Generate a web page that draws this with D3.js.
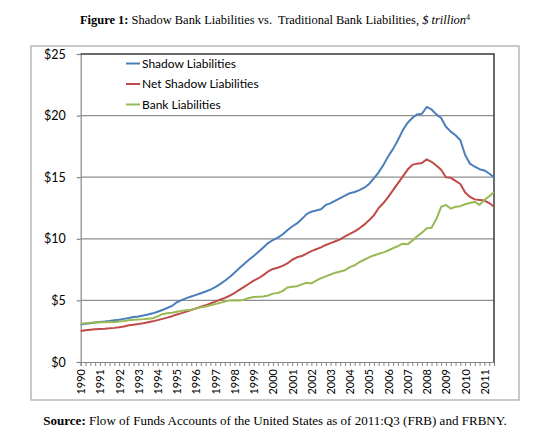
<!DOCTYPE html>
<html><head><meta charset="utf-8">
<script src="https://cdn.jsdelivr.net/npm/d3@7/dist/d3.min.js"></script>
<style>
body{margin:0;background:#fff;}
svg{display:block;}
</style></head>
<body><svg id="chart" width="560" height="442"></svg>
<script>
// ---- data (quarterly, 1990:Q1 .. 2011:Q3), $ trillion ----
const yearLabels = [1990,1991,1992,1993,1994,1995,1996,1997,1998,1999,2000,2001,2002,2003,2004,2005,2006,2007,2008,2009,2010,2011];
const yTicks = [0,5,10,15,20,25];
const shadow = [
 3.05,3.10,3.15,3.20,3.25,3.28,3.32,3.38,3.43,3.50,
 3.57,3.65,3.70,3.77,3.85,3.95,4.08,4.22,4.38,4.55,
 4.85,5.02,5.18,5.32,5.45,5.58,5.72,5.88,6.08,6.32,
 6.60,6.90,7.25,7.60,7.95,8.30,8.60,8.95,9.30,9.65,
 9.90,10.10,10.35,10.70,11.00,11.25,11.60,12.00,12.20,12.30,
 12.40,12.75,12.90,13.10,13.30,13.50,13.70,13.80,13.95,14.15,
 14.45,14.90,15.40,16.00,16.70,17.30,18.00,18.80,19.40,19.80,
 20.10,20.15,20.70,20.50,20.10,19.80,19.10,18.70,18.40,18.00,
 16.80,16.10,15.85,15.65,15.55,15.30,15.00];
const netShadow = [
 2.52,2.57,2.62,2.66,2.68,2.70,2.73,2.77,2.82,2.88,
 2.98,3.03,3.08,3.14,3.22,3.30,3.40,3.50,3.60,3.72,
 3.85,3.97,4.10,4.22,4.35,4.48,4.60,4.75,4.90,5.05,
 5.20,5.38,5.60,5.85,6.10,6.35,6.60,6.80,7.05,7.35,
 7.55,7.65,7.80,8.00,8.30,8.50,8.60,8.80,9.00,9.15,
 9.30,9.50,9.65,9.80,9.95,10.20,10.40,10.60,10.85,11.15,
 11.50,11.90,12.50,12.90,13.40,13.95,14.50,15.05,15.60,16.00,
 16.10,16.15,16.45,16.25,15.95,15.60,15.00,14.95,14.70,14.45,
 13.75,13.40,13.20,13.15,13.10,12.90,12.60];
const bank = [
 3.10,3.15,3.18,3.20,3.22,3.23,3.24,3.25,3.28,3.32,
 3.38,3.42,3.45,3.48,3.52,3.55,3.70,3.88,3.95,4.00,
 4.08,4.15,4.20,4.25,4.35,4.45,4.50,4.60,4.70,4.80,
 4.90,5.00,5.02,5.00,5.05,5.20,5.28,5.30,5.32,5.40,
 5.55,5.60,5.75,6.05,6.10,6.15,6.30,6.43,6.38,6.60,
 6.80,6.95,7.10,7.25,7.35,7.45,7.70,7.85,8.10,8.30,
 8.50,8.65,8.78,8.90,9.05,9.25,9.40,9.60,9.55,9.85,
 10.20,10.50,10.85,10.90,11.60,12.60,12.75,12.45,12.60,12.65,
 12.80,12.90,13.00,12.75,13.15,13.45,13.80];
const seriesNames = ["Shadow Liabilities","Net Shadow Liabilities","Bank Liabilities"];
const seriesColors = ["#4a7ebb","#be4b48","#98b954"];

// quarter categories built from year labels
const quarters = [];
yearLabels.forEach(y => [1,2,3,4].forEach(q => quarters.push(y + ":Q" + q)));
quarters.length = shadow.length;

const svg = d3.select("#chart");
const L = 80.7, R = 494, T = 54, B = 362;

// outer frame
svg.append("rect").attr("x",31).attr("y",46).attr("width",488).attr("height",354)
  .attr("fill","none").attr("stroke","#b8b8b8").attr("stroke-width",1.5);

const x = d3.scalePoint().domain(quarters).range([L, R]);
const y = d3.scaleLinear().domain([0,25]).range([B, T]);

// gridlines + y axis
const yAxis = d3.axisLeft(y).tickValues(yTicks).tickSize(4).tickFormat(d => "$" + d);
const gy = svg.append("g").attr("transform",`translate(${L},0)`).call(yAxis);
gy.select(".domain").attr("stroke","#868686").attr("stroke-width",1.2);
gy.selectAll(".tick line").attr("stroke","#868686").attr("stroke-width",1.2);
gy.selectAll(".tick text").attr("x",-15).attr("font-family","Lato, 'Open Sans', sans-serif")
  .attr("font-size",12.5).attr("fill","#000");
svg.append("g").selectAll("line").data(yTicks.filter(d => d>0 && d<25)).join("line")
  .attr("x1",L).attr("x2",R).attr("y1",d=>y(d)).attr("y2",d=>y(d))
  .attr("stroke","#8e8e8e").attr("stroke-width",1.2);

// x axis
const xAxis = d3.axisBottom(x).tickSize(4)
  .tickFormat(d => d.endsWith(":Q1") ? d.slice(0,4) : "");
const gx = svg.append("g").attr("transform",`translate(0,${B})`).call(xAxis);
gx.select(".domain").attr("stroke","#868686").attr("stroke-width",1.2);
gx.selectAll(".tick line").attr("stroke","#868686").attr("stroke-width",1);
gx.selectAll(".tick text").attr("transform","rotate(-90)").attr("text-anchor","end")
  .attr("x",-7).attr("y",0).attr("dy","0.35em")
  .attr("font-family","Lato, 'Open Sans', sans-serif").attr("font-size",11).attr("fill","#000");

// top and right plot borders
svg.append("path").attr("d",`M${L},${T}H${R}V${B}`).attr("fill","none")
  .attr("stroke","#3a3a3a").attr("stroke-width",1.5);

// lines
const line = d3.line().x((d,i)=>x(quarters[i])).y(d=>y(d));
[shadow, netShadow, bank].forEach((s,k) => {
  svg.append("path").datum(s).attr("d",line).attr("fill","none")
    .attr("stroke",seriesColors[k]).attr("stroke-width",2).attr("stroke-linejoin","round");
});

// legend
const lg = svg.append("g").selectAll("g").data(seriesNames).join("g")
  .attr("transform",(d,i)=>`translate(126,${63.5 + i*20.5})`);
lg.append("line").attr("x1",0).attr("x2",14).attr("stroke",(d,i)=>seriesColors[i]).attr("stroke-width",2);
lg.append("text").attr("x",16).attr("dy","0.35em").text(d=>d)
  .attr("font-family","Lato, 'Open Sans', sans-serif").attr("font-size",12).attr("fill","#000");

// title
const title = svg.append("text").attr("x",275).attr("y",24).attr("text-anchor","middle")
  .attr("font-family","'Liberation Serif', 'DejaVu Serif', serif").attr("font-size",11.5).attr("fill","#000");
title.append("tspan").attr("font-weight","bold").text("Figure 1:");
title.append("tspan").text(" Shadow Bank Liabilities vs.\u00a0 Traditional Bank Liabilities, ");
title.append("tspan").attr("font-style","italic").text("$ trillion");
title.append("tspan").attr("font-size",8).attr("dy",-4).text("4");

// source
const src = svg.append("text").attr("x",275).attr("y",425).attr("text-anchor","middle")
  .attr("font-family","'Liberation Serif', 'DejaVu Serif', serif").attr("font-size",11.5).attr("fill","#000");
src.append("tspan").attr("font-weight","bold").text("Source:");
src.append("tspan").text(" Flow of Funds Accounts of the United States as of 2011:Q3 (FRB) and FRBNY.");

// fit text widths to the reference layout
function fit(sel, w){ const b = sel.node().getBBox(); const fs = +sel.attr("font-size"); sel.attr("font-size", fs*w/b.width); }
fit(title, 391);
fit(src, 464);
</script></body></html>
